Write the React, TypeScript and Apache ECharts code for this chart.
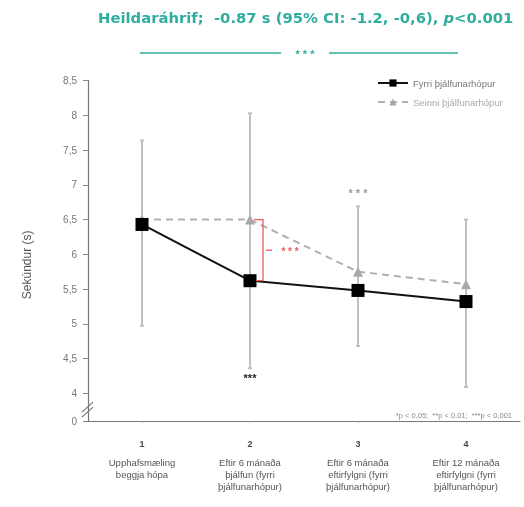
import React, { useEffect, useRef } from "react";
import * as echarts from "echarts";

const categoryNumbers = ["1", "2", "3", "4"];
const categoryTexts = [
  ["Upphafsmæling", "beggja hópa"],
  ["Eftir 6 mánaða", "þjálfun (fyrri", "þjálfunarhópur)"],
  ["Eftir 6 mánaða", "eftirfylgni (fyrri", "þjálfunarhópur)"],
  ["Eftir 12 mánaða", "eftirfylgni (fyrri", "þjálfunarhópur)"],
];
const seriesNames = ["Fyrri þjálfunarhópur", "Seinni þjálfunarhópur"];
const firstGroup = [6.43, 5.62, 5.48, 5.32];
const secondGroup = [6.5, 6.5, 5.75, 5.57];
const errorLow = [4.97, 4.36, 4.68, 4.09];
const errorHigh = [7.64, 8.03, 6.69, 6.5];
const yTickValues = [3.6, 4, 4.5, 5, 5.5, 6, 6.5, 7, 7.5, 8, 8.5];
const yTickLabels = ["0", "4", "4,5", "5", "5,5", "6", "6,5", "7", "7,5", "8", "8,5"];
const sigMarks = [
  { index: 1, value: 4.22, text: "***", color: "#222" },
  { index: 2, value: 6.88, text: "* * *", color: "#9a9a9a" },
];
const bracketIndex = 1;
const titleText = "Heildaráhrif;  -0.87 s (95% CI: -1.2, -0,6), ";
const footnote = "*p < 0,05;  **p < 0,01;  ***p < 0,001";

const TEAL = "#2fae9f";
const RED = "#e85a5e";

export default function App() {
  const ref = useRef<HTMLDivElement>(null);
  useEffect(() => {
    const chart = echarts.init(ref.current!, undefined, { renderer: "svg" });
    const option: any = {
      animation: false,
      textStyle: { fontFamily: "Liberation Sans, Arial, sans-serif" },
      title: {
        text: `{a|${titleText}}{i|p}{a|<0.001}`,
        left: 93,
        top: 5,
        textStyle: {
          rich: {
            a: { fontSize: 14.8, fontWeight: "bold", color: TEAL, fontFamily: "DejaVu Sans" },
            i: { fontSize: 14.8, fontWeight: "bold", fontStyle: "italic", color: TEAL, fontFamily: "DejaVu Sans" },
          },
        },
      },
      legend: {
        orient: "vertical",
        left: 372,
        top: 73,
        itemWidth: 30,
        itemHeight: 9,
        itemGap: 9,
        data: [
          { name: seriesNames[0], textStyle: { color: "#777" } },
          { name: seriesNames[1], textStyle: { color: "#aaa" } },
        ],
        textStyle: { fontSize: 9.5 },
      },
      grid: { left: 88, right: 4, top: 80.7, bottom: 86, containLabel: false },
      xAxis: {
        type: "category",
        data: categoryNumbers,
        boundaryGap: true,
        axisLine: { lineStyle: { color: "#777", width: 1.2 } },
        axisTick: { show: true, alignWithLabel: true, length: 2, lineStyle: { color: "#aaa" } },
        axisLabel: {
          margin: 11,
          interval: 0,
          formatter: (v: string, i: number) =>
            `{n|${v}}\n` + categoryTexts[i].map((t) => `{t|${t}}`).join("\n"),
          rich: {
            n: { fontSize: 9, fontWeight: "bold", color: "#444", lineHeight: 24 },
            t: { fontSize: 9.5, color: "#555", lineHeight: 12 },
          },
        },
      },
      yAxis: {
        type: "value",
        min: 3.6,
        max: 8.5,
        name: "Sekúndur (s)",
        nameLocation: "middle",
        nameGap: 55,
        nameTextStyle: { fontSize: 12, color: "#555", padding: [0, 28, 0, 0] },
        splitLine: { show: false },
        axisLine: { show: true, lineStyle: { color: "#777", width: 1.2 } },
        axisTick: { show: true, length: 5, customValues: yTickValues, lineStyle: { color: "#888" } },
        axisLabel: {
          margin: 11,
          fontSize: 10,
          color: "#777",
          customValues: yTickValues,
          formatter: (v: number) => {
            const i = yTickValues.findIndex((t) => Math.abs(t - v) < 1e-6);
            return i >= 0 ? yTickLabels[i] : "";
          },
        },
      },
      series: [
        {
          type: "custom",
          name: "errors",
          z: 1,
          data: categoryNumbers.map((_, i) => [i, errorLow[i], errorHigh[i]]),
          renderItem: (params: any, api: any) => {
            const lo = api.coord([api.value(0), api.value(1)]);
            const hi = api.coord([api.value(0), api.value(2)]);
            const st = { stroke: "#c0c0c0", lineWidth: 2 };
            return {
              type: "group",
              children: [
                { type: "line", shape: { x1: lo[0], y1: lo[1], x2: hi[0], y2: hi[1] }, style: st },
                { type: "line", shape: { x1: lo[0] - 2, y1: lo[1], x2: lo[0] + 2, y2: lo[1] }, style: st },
                { type: "line", shape: { x1: hi[0] - 2, y1: hi[1], x2: hi[0] + 2, y2: hi[1] }, style: st },
              ],
            };
          },
        },
        {
          type: "line",
          name: seriesNames[1],
          z: 3,
          data: secondGroup,
          symbol: "triangle",
          symbolSize: 10,
          itemStyle: { color: "#a8a8a8" },
          lineStyle: { color: "#b0b0b0", width: 2, type: [7, 5] },
        },
        {
          type: "line",
          name: seriesNames[0],
          z: 4,
          data: firstGroup,
          symbol: "rect",
          symbolSize: 13,
          itemStyle: { color: "#000" },
          lineStyle: { color: "#111", width: 2 },
        },
        {
          type: "custom",
          name: "bracket",
          z: 5,
          data: [[bracketIndex, secondGroup[bracketIndex], firstGroup[bracketIndex]]],
          renderItem: (params: any, api: any) => {
            const top = api.coord([api.value(0), api.value(1)]);
            const bot = api.coord([api.value(0), api.value(2)]);
            const X = top[0] + 13;
            const mid = (top[1] + bot[1]) / 2;
            const st = { stroke: RED, lineWidth: 1.3, fill: null };
            return {
              type: "group",
              children: [
                {
                  type: "polyline",
                  shape: { points: [[top[0] + 4, top[1]], [X, top[1]], [X, bot[1]], [bot[0] + 6, bot[1]]] },
                  style: st,
                },
                { type: "line", shape: { x1: X + 3, y1: mid, x2: X + 9, y2: mid }, style: st },
                {
                  type: "text",
                  x: X + 27,
                  y: mid + 1,
                  style: { text: "* * *", fill: RED, font: "bold 10px Liberation Sans, Arial", align: "center", verticalAlign: "middle" },
                },
              ],
            };
          },
        },
        {
          type: "custom",
          name: "sig",
          z: 6,
          data: sigMarks.map((s) => [s.index, s.value]),
          renderItem: (params: any, api: any) => {
            const p = api.coord([api.value(0), api.value(1)]);
            const s = sigMarks[params.dataIndex];
            return {
              type: "text",
              x: p[0],
              y: p[1],
              style: { text: s.text, fill: s.color, font: "bold 11px Liberation Sans, Arial", align: "center", verticalAlign: "middle" },
            };
          },
        },
      ],
      graphic: [
        { type: "line", shape: { x1: 140, y1: 53, x2: 281, y2: 53 }, style: { stroke: TEAL, lineWidth: 1.5 } },
        { type: "text", x: 305, y: 54, style: { text: "* * *", fill: TEAL, font: "bold 11px Liberation Sans, Arial", align: "center", verticalAlign: "middle" } },
        { type: "line", shape: { x1: 329, y1: 53, x2: 458, y2: 53 }, style: { stroke: TEAL, lineWidth: 1.5 } },
        { type: "text", x: 512, y: 415, style: { text: footnote, fill: "#888", font: "7.5px Liberation Sans, Arial", align: "right", verticalAlign: "middle" } },
      ],
    };
    chart.setOption(option);
    const yb = chart.convertToPixel({ yAxisIndex: 0 }, 3.8) as number;
    chart.setOption({
      graphic: [
        { type: "line", id: "b1", shape: { x1: 82, y1: yb + 5, x2: 93, y2: yb - 5 }, style: { stroke: "#777", lineWidth: 1.2 } },
        { type: "line", id: "b2", shape: { x1: 82, y1: yb + 10, x2: 93, y2: yb }, style: { stroke: "#777", lineWidth: 1.2 } },
      ],
    });
    return () => chart.dispose();
  }, []);
  return <div ref={ref} style={{ position: "fixed", left: 0, top: 0, width: 524, height: 507 }} />;
}
